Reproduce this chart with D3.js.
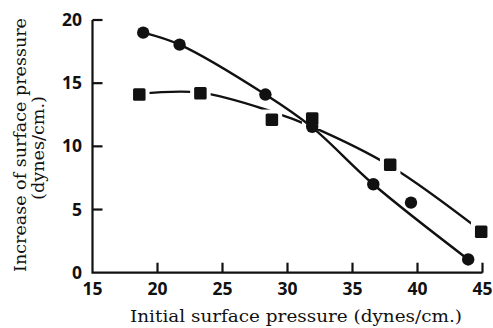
<!DOCTYPE html>
<html>
<head>
<meta charset="utf-8">
<script src="https://cdn.jsdelivr.net/npm/d3@7"></script>
<style>
  body { margin: 0; background: #fff; }
  .tick-label { font-family: "Open Sans", sans-serif; font-weight: 700; font-size: 17.5px; fill: #111; }
  .axis-title { font-family: "DejaVu Serif", serif; font-size: 16px; fill: #111; }
</style>
</head>
<body>
<div id="chart"></div>
<script>
var svgWidth = 493;
var svgHeight = 328;

// Measured points, circles
var circleX = [18.9, 21.7, 28.3, 31.9, 36.6, 39.5, 43.9];
var circleY = [19.0, 18.05, 14.1, 11.55, 7.0, 5.55, 1.05];

// Measured points, squares
var squareX = [18.6, 23.3, 28.8, 31.9, 37.9, 44.9];
var squareY = [14.1, 14.2, 12.1, 12.2, 8.55, 3.25];

// Hand-drawn trend curves
var circleFitX = [18.9, 21.7, 28.3, 31.9, 36.6, 43.9];
var circleFitY = [19.0, 18.05, 14.1, 11.5, 7.0, 1.05];
var squareFitX = [18.6, 23.3, 28.8, 32.0, 37.9, 44.9];
var squareFitY = [14.15, 14.25, 12.75, 11.5, 8.45, 3.3];

var xTicks = [15, 20, 25, 30, 35, 40, 45];
var yTicks = [0, 5, 10, 15, 20];

var svg = d3.select("#chart")
  .append("svg")
  .attr("width", svgWidth)
  .attr("height", svgHeight);

var x = d3.scaleLinear().domain([15, 45]).range([92.5, 482.5]);
var y = d3.scaleLinear().domain([0, 20]).range([272.7, 20]);

// Axes
var axes = svg.append("g")
  .attr("stroke", "#111")
  .attr("stroke-width", 2.2)
  .attr("fill", "none");

axes.append("path")
  .attr("d", `M${x(15)},${y(20)}V${y(0)}H${x(45)}`);

axes.selectAll(".xt")
  .data(xTicks.slice(1))
  .enter()
  .append("line")
  .attr("x1", d => x(d))
  .attr("x2", d => x(d))
  .attr("y1", y(0))
  .attr("y2", y(0) - 10);

axes.selectAll(".yt")
  .data(yTicks.slice(1))
  .enter()
  .append("line")
  .attr("x1", x(15))
  .attr("x2", x(15) + 10)
  .attr("y1", d => y(d))
  .attr("y2", d => y(d));

svg.selectAll(".xl")
  .data(xTicks)
  .enter()
  .append("text")
  .attr("class", "tick-label")
  .attr("x", d => x(d))
  .attr("y", 295)
  .attr("text-anchor", "middle")
  .text(d => d);

svg.selectAll(".yl")
  .data(yTicks)
  .enter()
  .append("text")
  .attr("class", "tick-label")
  .attr("x", 82)
  .attr("y", d => y(d) + 6)
  .attr("text-anchor", "end")
  .text(d => d);

// Axis titles
svg.append("text")
  .attr("class", "axis-title")
  .attr("x", 130)
  .attr("y", 322)
  .attr("textLength", 332)
  .attr("lengthAdjust", "spacingAndGlyphs")
  .text("Initial surface pressure (dynes/cm.)");

var yTitle = svg.append("g")
  .attr("transform", "translate(26, 272) rotate(-90)");
yTitle.append("text")
  .attr("class", "axis-title")
  .attr("textLength", 254)
  .attr("lengthAdjust", "spacingAndGlyphs")
  .text("Increase of surface pressure");
yTitle.append("text")
  .attr("class", "axis-title")
  .attr("x", 72)
  .attr("y", 18)
  .attr("textLength", 104)
  .attr("lengthAdjust", "spacingAndGlyphs")
  .text("(dynes/cm.)");

var line = d3.line()
  .x(d => x(d[0]))
  .y(d => y(d[1]))
  .curve(d3.curveCatmullRom.alpha(0.5));

// Square series: curve, white gaps round markers, markers
svg.append("path")
  .datum(d3.zip(squareFitX, squareFitY))
  .attr("d", line)
  .attr("fill", "none")
  .attr("stroke", "#111")
  .attr("stroke-width", 2.4);

var sq = 12.5;
svg.selectAll(".sqhalo")
  .data(d3.zip(squareX, squareY))
  .enter()
  .append("rect")
  .attr("x", d => x(d[0]) - sq / 2 - 4)
  .attr("y", d => y(d[1]) - sq / 2 - 4)
  .attr("width", sq + 8)
  .attr("height", sq + 8)
  .attr("fill", "#fff");

svg.selectAll(".sq")
  .data(d3.zip(squareX, squareY))
  .enter()
  .append("rect")
  .attr("x", d => x(d[0]) - sq / 2)
  .attr("y", d => y(d[1]) - sq / 2)
  .attr("width", sq)
  .attr("height", sq)
  .attr("rx", 1.5)
  .attr("fill", "#111");

// Circle series
svg.append("path")
  .datum(d3.zip(circleFitX, circleFitY))
  .attr("d", line)
  .attr("fill", "none")
  .attr("stroke", "#111")
  .attr("stroke-width", 2.4);

svg.selectAll(".dot")
  .data(d3.zip(circleX, circleY))
  .enter()
  .append("circle")
  .attr("cx", d => x(d[0]))
  .attr("cy", d => y(d[1]))
  .attr("r", 6.2)
  .attr("fill", "#111");
</script>
</body>
</html>
